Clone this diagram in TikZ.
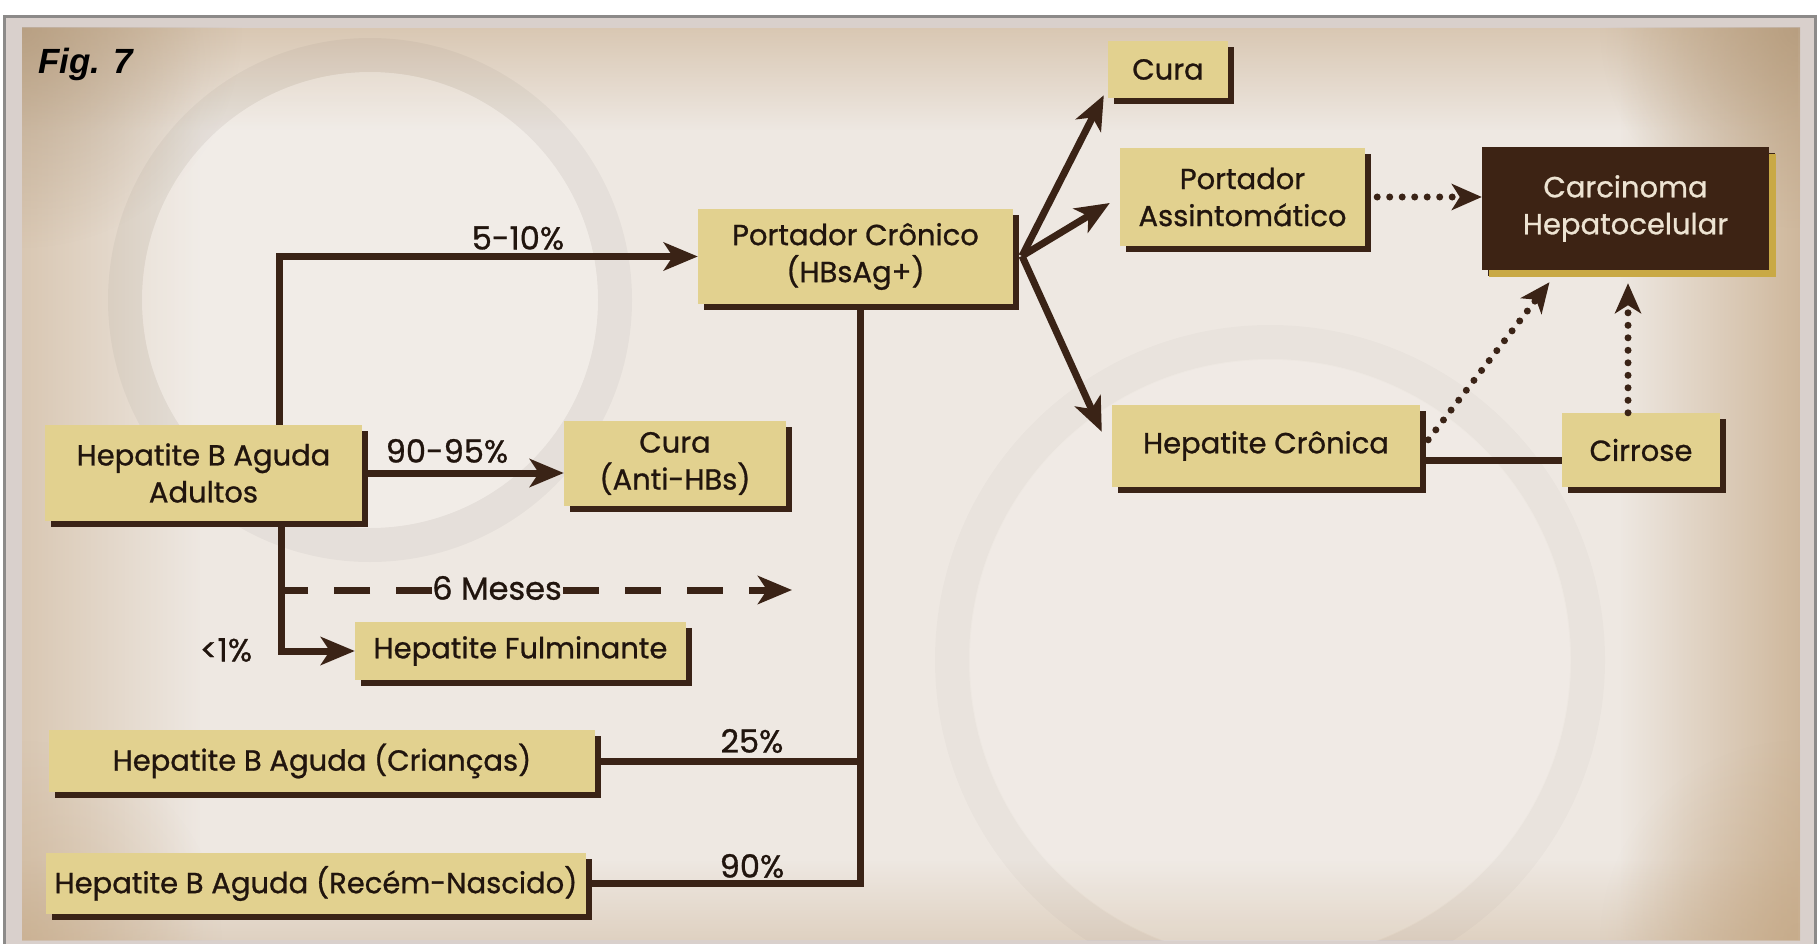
\documentclass[tikz,border=0pt]{standalone}
\usepackage{fontspec}
\setmainfont{Poppins}[UprightFeatures={FakeBold=0.9}]
\newfontfamily\figfont{Liberation Sans}
\usetikzlibrary{arrows.meta,shadows,calc,fadings}

\definecolor{boxfill}{HTML}{E2D18F}
\definecolor{ink}{HTML}{3A2316}
\definecolor{txt}{HTML}{21150E}
\definecolor{carc}{HTML}{3D2314}
\definecolor{carctext}{HTML}{EDE3D2}
\definecolor{gold}{HTML}{C9A945}
\definecolor{framegrey}{HTML}{8C8A89}
\definecolor{bandgrey}{HTML}{D9D0CC}
\definecolor{pcen}{HTML}{EEE8E2}
\definecolor{pedge}{HTML}{C4A784}

% soft edges for the aged paper
\tikzfading[name=fromleft, left color=transparent!0, right color=transparent!100]
\tikzfading[name=fromright, left color=transparent!100, right color=transparent!0]
\tikzfading[name=fromtop, top color=transparent!0, bottom color=transparent!100]
\tikzfading[name=frombottom, top color=transparent!100, bottom color=transparent!0]
\tikzfading[name=spot, inner color=transparent!0, outer color=transparent!100]

\tikzset{
  stepbox/.style={fill=boxfill, text=txt, align=center, inner sep=0pt,
    font=\fontsize{29}{37}\selectfont,
    drop shadow={shadow xshift=6pt, shadow yshift=-6pt, fill=ink, opacity=1}},
  darkbox/.style={stepbox, fill=carc, text=carctext,
    drop shadow={shadow xshift=7pt, shadow yshift=-7pt, fill=gold, opacity=1}},
  lbl/.style={text=txt, font=\fontsize{32}{38}\selectfont, inner sep=0pt},
  link/.style={draw=ink, line width=7pt},
  arr/.style={link, -{Stealth[length=34pt, width=28pt, inset=9pt]}},
  dashlink/.style={draw=ink, line width=7pt, dash pattern=on 36pt off 26pt},
  dotarr/.style={draw=ink, line width=7pt, line cap=round,
    dash pattern=on 0pt off 12.5pt,
    -{Stealth[length=30pt, width=26pt, inset=8pt, line cap=butt, sep=0pt]}},
  greyring/.style={draw=black, opacity=0.035, line width=34pt},
  lightdisc/.style={fill=white, opacity=0.2},
}

\begin{document}
\begin{tikzpicture}[x=1pt, y=-1pt]
\useasboundingbox (0,0) rectangle (1819,944);

% frame
\fill[white] (0,0) rectangle (1819,944);
\draw[line width=3pt, draw=framegrey, fill=bandgrey] (4.5,16.5) rectangle (1815,970);

% parchment with darker rim
\begin{scope}
  \clip (22,28) rectangle (1800,940);
  \fill[pcen] (22,28) rectangle (1800,940);
  \fill[pedge, opacity=0.5, path fading=fromleft] (22,28) rectangle (200,940);
  \fill[pedge, opacity=0.75, path fading=fromright] (1620,28) rectangle (1800,940);
  \fill[pedge, opacity=0.5, path fading=fromtop] (22,28) rectangle (1800,130);
  \fill[pedge, opacity=0.35, path fading=frombottom] (22,860) rectangle (1800,940);
  \fill[pedge!85!black, opacity=0.55, path fading=spot] (22,28) circle[radius=220];
  \fill[pedge!85!black, opacity=0.5, path fading=spot] (1800,28) circle[radius=200];
  \fill[pedge, opacity=0.45, path fading=spot] (22,940) circle[radius=200];
  \fill[pedge, opacity=0.55, path fading=spot] (1800,940) circle[radius=200];
  % faint globe watermarks
  \fill[lightdisc] (370,300) circle[radius=228];
  \draw[greyring] (370,300) circle[radius=245];
  \fill[lightdisc, opacity=0.12] (1270,660) circle[radius=300];
  \draw[greyring, opacity=0.018] (1270,660) circle[radius=318];
\end{scope}

\node[text=black, font=\figfont\bfseries\itshape\fontsize{35}{40}\selectfont,
      anchor=west, inner sep=0pt] (fig) at (38,64) {Fig. 7};

% boxes
\node[stepbox, minimum width=315, minimum height=95] (PC) at (855.5,256.5)
  {Portador Crônico\\(HBsAg+)};
\node[stepbox, minimum width=120, minimum height=57] (CuraT) at (1168,69.5) {Cura};
\node[stepbox, minimum width=245, minimum height=98] (PA) at (1242.5,197)
  {Portador\\Assintomático};
\node[darkbox, minimum width=287, minimum height=123] (CH) at (1625.5,208.5)
  {Carcinoma\\Hepatocelular};
\node[stepbox, minimum width=308, minimum height=82] (HC) at (1266,446) {Hepatite Crônica};
\node[stepbox, minimum width=158, minimum height=74] (Ci) at (1641,450) {Cirrose};
\node[stepbox, minimum width=317, minimum height=96] (Ad) at (203.5,473)
  {Hepatite B Aguda\\Adultos};
\node[stepbox, minimum width=222, minimum height=85] (CuraB) at (675,463.5)
  {Cura\\(Anti-HBs)};
\node[stepbox, minimum width=331, minimum height=58] (Fu) at (520.5,651) {Hepatite Fulminante};
\node[stepbox, minimum width=546, minimum height=62] (Cr) at (322,761)
  {Hepatite B Aguda (Crianças)};
\node[stepbox, minimum width=540, minimum height=61] (RN) at (316,883.5)
  {Hepatite B Aguda (Recém-Nascido)};

% adult branch
\draw[arr] ([xshift=75.5pt]Ad.north) |- (PC.west);
\draw[arr] (Ad.east) -- (Ad.east -| CuraB.west);
\draw[arr] ([xshift=77.5pt]Ad.south) |- (Fu.west);
\coordinate (d0) at (281,590);
\coordinate (d1) at (432,590);
\coordinate (d2) at (563,590);
\coordinate (d3) at (792,590);
\draw[dashlink] (d1) -- (d0);
\draw[dashlink, -{Stealth[length=34pt, width=28pt, inset=9pt]}] (d2) -- (d3);

% children and newborn join
\draw[link] (Cr.east) -| ([xshift=5pt]PC.south);
\draw[link] (RN.east) -| ([xshift=5pt]PC.south);

% outcomes of the chronic carrier
\coordinate (fan) at (1022,256);
\draw[arr] (fan) -- ([xshift=-4pt, yshift=3pt]CuraT.south west);
\draw[arr] (fan) -- ([xshift=-10pt, yshift=-6pt]PA.west);
\draw[arr] (fan) -- ([xshift=-10pt, yshift=-27pt]HC.north west);

% progression to carcinoma
\draw[dotarr] ([xshift=12pt]PA.east) -- (PA.east -| CH.west);
\draw[dotarr] ([xshift=8pt, yshift=-35pt]HC.north east) -- ([xshift=-76pt, yshift=-12pt]CH.south);
\draw[dotarr] ([xshift=-13pt]Ci.north) -- ([xshift=-13pt, yshift=-13pt]Ci.north |- CH.south);
\draw[link] ([yshift=-14pt]HC.east) -- ([yshift=-14pt]HC.east -| Ci.west);

% percentages
\node[lbl] (p1) at (518,238) {5-10\%};
\node[lbl] (p2) at (447,451) {90-95\%};
\node[lbl] (p3) at (226,650) {<1\%};
\node[lbl] (p4) at (497,588) {6 Meses};
\node[lbl] (p5) at (752,741) {25\%};
\node[lbl] (p6) at (752,866) {90\%};
\end{tikzpicture}
\end{document}
